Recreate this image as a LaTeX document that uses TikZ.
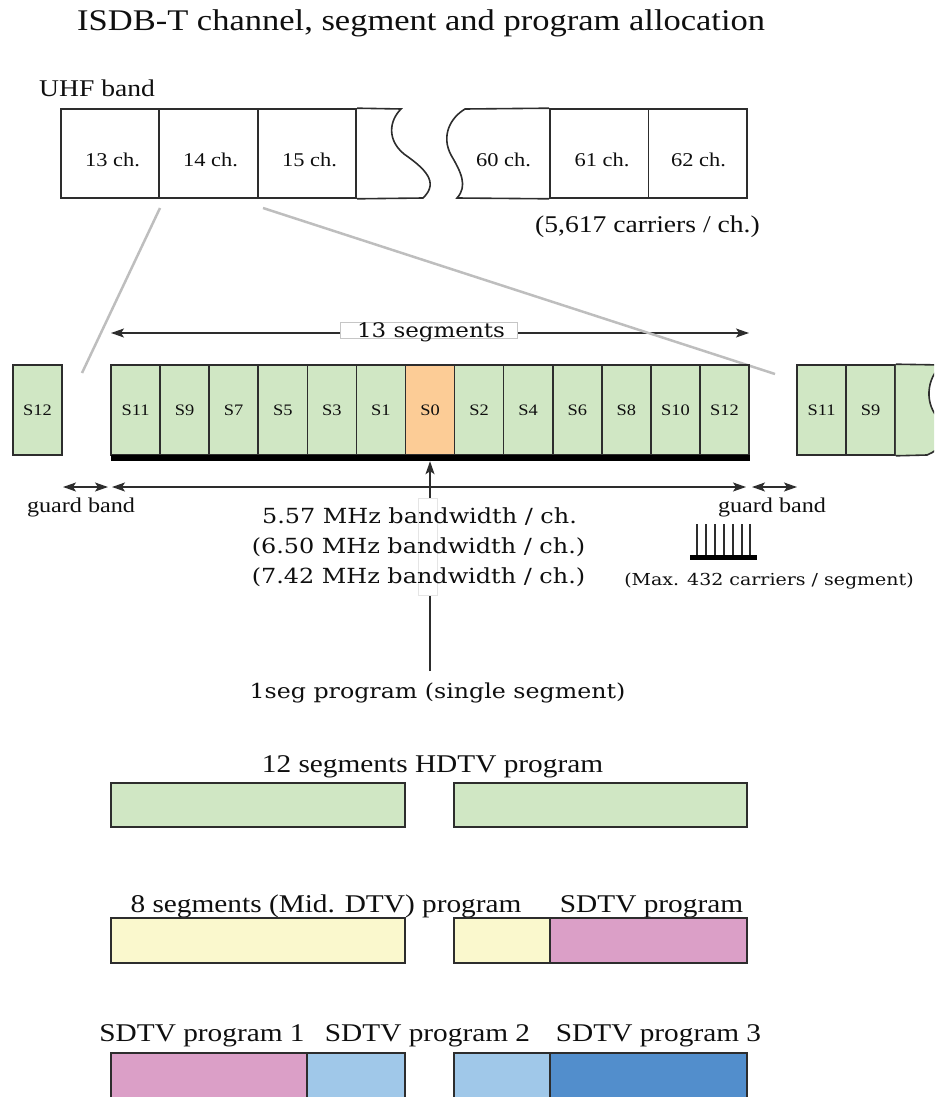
\documentclass[tikz,border=0pt]{standalone}
\usepackage{graphicx}
\usepackage{fontspec}
\setmainfont{Liberation Serif}
\newfontfamily\dvs{DejaVu Serif}
\usetikzlibrary{arrows.meta}
\newcommand\myfs[1]{\fontsize{#1}{#1}\selectfont}
\newcommand\sx[1]{\scalebox{1.15}[1]{#1}}
\definecolor{segG}{RGB}{208,231,196}
\definecolor{segO}{RGB}{252,204,150}
\definecolor{progY}{RGB}{250,248,205}
\definecolor{progP}{RGB}{219,159,199}
\definecolor{progLB}{RGB}{160,200,233}
\definecolor{progDB}{RGB}{82,142,204}
\definecolor{edge}{RGB}{45,45,45}
\definecolor{txt}{RGB}{15,15,15}
\definecolor{zoomline}{RGB}{190,190,190}
\begin{document}
\begin{tikzpicture}[x=1pt,y=-1pt,
  chbox/.style={draw=edge, line width=1.6pt, inner sep=0pt, minimum height=89pt, minimum width=98.5pt},
  seg/.style={draw=edge, line width=1.6pt, fill=segG, inner sep=0pt, minimum width=49.08pt, minimum height=90pt, text=txt, font=\myfs{16}},
  prog/.style={draw=edge, line width=1.6pt, inner sep=0pt},
  arr/.style={draw=edge, line width=1.5pt, -{Stealth[length=13pt,width=9pt,inset=3pt]}},
  darr/.style={draw=edge, line width=1.5pt, {Stealth[length=13pt,width=9pt,inset=3pt]}-{Stealth[length=13pt,width=9pt,inset=3pt]}},
  tlab/.style={anchor=base, inner sep=0pt, text=txt},
]
\useasboundingbox (0,0) rectangle (934,1097);
\clip (0,0) rectangle (934,1097);

% title
\node[tlab, anchor=base west, font=\myfs{30}] (title) at (77,31) {\sx{ISDB-T channel, segment and program allocation}};

% UHF band
\node[tlab, anchor=base west, font=\myfs{24}] (uhf) at (39,97) {\sx{UHF band}};
\node[chbox] (c13) at (110,153.5) {};
\node[chbox] (c14) at (208.5,153.5) {};
\node[chbox] (c15) at (307,153.5) {};
\draw[edge, line width=1.6pt] (c15.north east) -- (401,109)
  .. controls (389,121) and (387,140) .. (404,154)
  .. controls (424,168) and (440,182) .. (423,198) -- (c15.south east);
\node[chbox] (c61) at (599.25,153.5) {};
\node[chbox] (c62) at (697.75,153.5) {};
\draw[edge, line width=1.6pt] (c61.north west) -- (465,109)
  .. controls (450,118) and (441,136) .. (451,155)
  .. controls (461,172) and (468,186) .. (457,198) -- (c61.south west);
\node[tlab, font=\myfs{19.5}] (t13) at (112.5,166) {\sx{13 ch.}};
\node[tlab, font=\myfs{19.5}] (t14) at (210.5,166) {\sx{14 ch.}};
\node[tlab, font=\myfs{19.5}] (t15) at (309.5,166) {\sx{15 ch.}};
\node[tlab, font=\myfs{19.5}] (t60) at (503.5,166) {\sx{60 ch.}};
\node[tlab, font=\myfs{19.5}] (t61) at (602,166) {\sx{61 ch.}};
\node[tlab, font=\myfs{19.5}] (t62) at (698.5,166) {\sx{62 ch.}};
\node[tlab, font=\myfs{24}] (carch) at (647.5,232) {\sx{(5,617 carriers / ch.)}};

% zoom lines
\coordinate (zl1a) at (160,208);
\coordinate (zl1b) at (82,373);
\coordinate (zl2a) at (263,208);
\coordinate (zl2b) at (775,374);
\draw[zoomline, line width=2.5pt] (zl1a) -- (zl1b);

% 13 segments arrow
\coordinate (a13l) at (111,333);
\coordinate (a13r) at (749,333);
\draw[darr] (a13l) -- (a13r);
\node[draw=gray!45, fill=white, line width=0.6pt, minimum width=177pt, minimum height=16pt, inner sep=0pt] (lbox) at (428.5,330) {};
\node[tlab, font=\dvs\myfs{20}] (l13) at (431,337) {\sx{13 segments}};
\draw[zoomline, line width=2.5pt] (zl2a) -- (zl2b);

% segments
\node[seg] (ls12) at (37.5,410) {\sx{S12}};
\node[seg] (s11) at (135.54,410) {\sx{S11}};
\node[seg] (s9)  at (184.62,410) {\sx{S9}};
\node[seg] (s7)  at (233.70,410) {\sx{S7}};
\node[seg] (s5)  at (282.78,410) {\sx{S5}};
\node[seg] (s3)  at (331.86,410) {\sx{S3}};
\node[seg] (s1)  at (380.94,410) {\sx{S1}};
\node[seg, fill=segO] (s0) at (430.02,410) {\sx{S0}};
\node[seg] (s2)  at (479.10,410) {\sx{S2}};
\node[seg] (s4)  at (528.18,410) {\sx{S4}};
\node[seg] (s6)  at (577.26,410) {\sx{S6}};
\node[seg] (s8)  at (626.34,410) {\sx{S8}};
\node[seg] (s10) at (675.42,410) {\sx{S10}};
\node[seg] (s12) at (724.50,410) {\sx{S12}};
\node[fill=black, inner sep=0pt, minimum width=639pt, minimum height=6pt] (bar) at (430,458) {};
\node[seg] (rs11) at (821.5,410) {\sx{S11}};
\node[seg] (rs9)  at (870.58,410) {\sx{S9}};
\draw[edge, line width=1.6pt, fill=segG] (rs9.north east) -- (942,365)
  .. controls (926,378) and (924,405) .. (940,420)
  .. controls (955,435) and (940,450) .. (927,455) -- (rs9.south east);

% bandwidth arrows
\coordinate (g1l) at (63,487);
\coordinate (g1r) at (108,487);
\coordinate (bwl) at (112,487);
\coordinate (bwr) at (746,487);
\coordinate (g2l) at (752,487);
\coordinate (g2r) at (797,487);
\draw[darr] (g1l) -- (g1r);
\draw[darr] (bwl) -- (bwr);
\draw[darr] (g2l) -- (g2r);
\node[tlab, font=\myfs{21}] (gb1) at (81,512) {\sx{guard band}};
\node[tlab, font=\myfs{21}] (gb2) at (772,512) {\sx{guard band}};

% 1seg arrow
\node[tlab, font=\dvs\myfs{20.6}] (oneseg) at (437.5,698) {\sx{1seg program (single segment)}};
\draw[arr, shorten <=11pt] (oneseg.north -| s0.center) -- (s0.center |- bar.south);
\node[draw=gray!20, fill=white, line width=0.5pt, minimum width=19pt, minimum height=97pt, inner sep=0pt] (wbox) at (427.5,546.5) {};
\node[tlab, font=\dvs\myfs{20.8}] (bw1) at (419.5,523) {\sx{5.57 MHz bandwidth / ch.}};
\node[tlab, font=\dvs\myfs{20.8}] (bw2) at (418.5,553) {\sx{(6.50 MHz bandwidth / ch.)}};
\node[tlab, font=\dvs\myfs{20.8}] (bw3) at (418.5,583) {\sx{(7.42 MHz bandwidth / ch.)}};

% carriers comb
\foreach \cx in {697,706,715,724,733,742,750} {
  \draw[edge, line width=1.3pt] (\cx,524) -- (\cx,556);
}
\fill[black] (690,555) rectangle (757,560);
\node[tlab, font=\dvs\myfs{16.5}] (maxc) at (769,585) {\sx{(Max. 432 carriers / segment)}};

% program rows
\node[tlab, font=\myfs{25.5}] (lhd) at (432.5,772) {\sx{12 segments HDTV program}};
\node[prog, fill=segG, minimum width=294pt, minimum height=44pt] (h1) at (258,805) {};
\node[prog, fill=segG, minimum width=293pt, minimum height=44pt] (h2) at (600.5,805) {};

\node[tlab, font=\myfs{25.5}] (lmid) at (326,912) {\sx{8 segments (Mid. DTV) program}};
\node[tlab, font=\myfs{25.5}] (lsd) at (651.5,912) {\sx{SDTV program}};
\node[prog, fill=progY, minimum width=294pt, minimum height=45pt] (m1) at (258,940.5) {};
\node[prog, fill=progY, minimum width=96pt, minimum height=45pt] (m2) at (502,940.5) {};
\node[prog, fill=progP, minimum width=197pt, minimum height=45pt] (sd) at (648.5,940.5) {};

\node[tlab, font=\myfs{25.5}] (lp1) at (202,1041) {\sx{SDTV program 1}};
\node[tlab, font=\myfs{25.5}] (lp2) at (427.5,1041) {\sx{SDTV program 2}};
\node[tlab, font=\myfs{25.5}] (lp3) at (658.5,1041) {\sx{SDTV program 3}};
\node[prog, fill=progP, minimum width=196pt, minimum height=60pt] (p1) at (209,1083) {};
\node[prog, fill=progLB, minimum width=98pt, minimum height=60pt] (p2a) at (356,1083) {};
\node[prog, fill=progLB, minimum width=96pt, minimum height=60pt] (p2b) at (502,1083) {};
\node[prog, fill=progDB, minimum width=197pt, minimum height=60pt] (p3) at (648.5,1083) {};
\end{tikzpicture}
\end{document}
